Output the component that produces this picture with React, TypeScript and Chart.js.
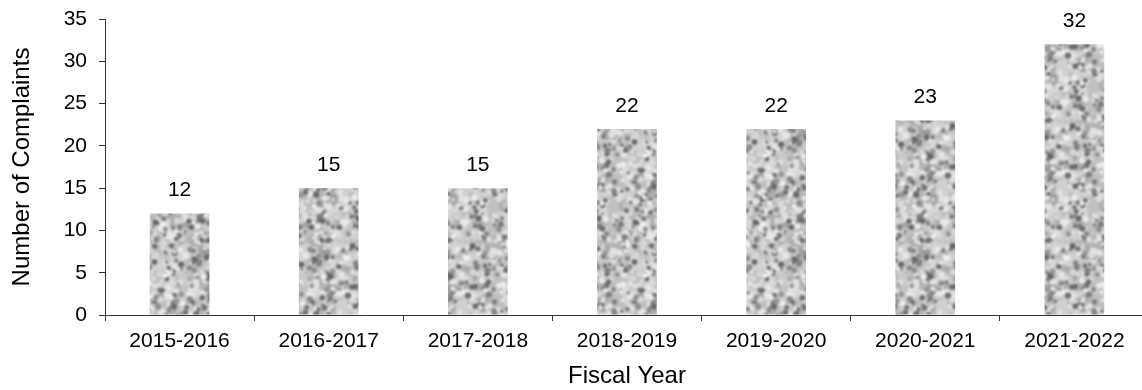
import React, { useEffect, useRef } from "react";
import { Chart, registerables } from "chart.js";

Chart.register(...registerables);

const fiscalYears = [
  "2015-2016",
  "2016-2017",
  "2017-2018",
  "2018-2019",
  "2019-2020",
  "2020-2021",
  "2021-2022",
];
const complaints = [12, 15, 15, 22, 22, 23, 32];
const yTicks = [0, 5, 10, 15, 20, 25, 30, 35];

const FONT = "'Liberation Sans', Arial, sans-serif";

// Deterministic hash-based noise for a granite-style bar texture.
function hashNoise(i: number): number {
  let x = Math.imul(i ^ 0x9e3779b9, 0x85ebca6b);
  x ^= x >>> 13;
  x = Math.imul(x, 0xc2b2ae35);
  x ^= x >>> 16;
  return (x >>> 0) / 4294967295;
}

function makeGranitePattern(ctx: CanvasRenderingContext2D): CanvasPattern | string {
  const size = 120;
  const base = document.createElement("canvas");
  base.width = size;
  base.height = size;
  const b = base.getContext("2d");
  if (!b) return "#aaaaaa";
  b.fillStyle = "#c0c0c0";
  b.fillRect(0, 0, size, size);
  let n = 11;
  const blobs = (count: number, rMin: number, rVar: number, gMin: number, gVar: number) => {
    for (let k = 0; k < count; k++) {
      const x = hashNoise(n++) * size;
      const y = hashNoise(n++) * size;
      const r = rMin + hashNoise(n++) * rVar;
      const g = gMin + Math.floor(hashNoise(n++) * gVar);
      b.fillStyle = `rgb(${g},${g},${g})`;
      for (const dx of [-size, 0, size])
        for (const dy of [-size, 0, size]) {
          b.beginPath();
          b.arc(x + dx, y + dy, r, 0, Math.PI * 2);
          b.fill();
        }
    }
  };
  blobs(240, 3, 5, 165, 50); // broad mottling
  blobs(420, 1.3, 2.2, 205, 35); // light grains
  blobs(200, 1.4, 1.8, 95, 55); // dark grains
  blobs(70, 0.9, 1.3, 228, 22); // bright flecks

  // blur a 3x3 tiled copy so the tile edges wrap seamlessly
  const big = document.createElement("canvas");
  big.width = size * 3;
  big.height = size * 3;
  const bg = big.getContext("2d");
  if (!bg) return "#aaaaaa";
  for (let i = 0; i < 3; i++)
    for (let j = 0; j < 3; j++) bg.drawImage(base, i * size, j * size);
  const blurred = document.createElement("canvas");
  blurred.width = size * 3;
  blurred.height = size * 3;
  const bl = blurred.getContext("2d");
  if (!bl) return "#aaaaaa";
  bl.filter = "blur(1.3px)";
  bl.drawImage(big, 0, 0);
  const tile = document.createElement("canvas");
  tile.width = size;
  tile.height = size;
  const t = tile.getContext("2d");
  if (!t) return "#aaaaaa";
  t.drawImage(blurred, size, size, size, size, 0, 0, size, size);
  return ctx.createPattern(tile, "repeat") || "#aaaaaa";
}

const valueLabels = {
  id: "valueLabels",
  afterDatasetsDraw(chart: Chart) {
    const { ctx } = chart;
    const meta = chart.getDatasetMeta(0);
    const data = chart.data.datasets[0].data as number[];
    ctx.save();
    ctx.fillStyle = "#000";
    ctx.font = `21px ${FONT}`;
    ctx.textAlign = "center";
    ctx.textBaseline = "middle";
    meta.data.forEach((bar, i) => {
      const { x, y } = bar.getProps(["x", "y"], true) as { x: number; y: number };
      ctx.fillText(String(data[i]), x, y - 23);
    });
    ctx.restore();
  },
};

export default function App() {
  const canvasRef = useRef<HTMLCanvasElement | null>(null);

  useEffect(() => {
    document.body.style.margin = "0";
    document.body.style.overflow = "hidden";
    const canvas = canvasRef.current;
    if (!canvas) return;
    const ctx = canvas.getContext("2d");
    if (!ctx) return;
    const pattern = makeGranitePattern(ctx);

    const chart = new Chart(ctx, {
      type: "bar",
      data: {
        labels: fiscalYears,
        datasets: [
          {
            data: complaints,
            backgroundColor: pattern as any,
            borderWidth: 0,
            barPercentage: 0.4,
            categoryPercentage: 1,
          },
        ],
      },
      plugins: [valueLabels],
      options: {
        animation: false,
        responsive: false,
        maintainAspectRatio: false,
        layout: { padding: { top: 19, right: 1, left: 0, bottom: 0 } },
        plugins: {
          legend: { display: false },
          tooltip: { enabled: false },
        },
        scales: {
          x: {
            grid: {
              offset: true,
              drawOnChartArea: false,
              drawTicks: true,
              tickLength: 6,
              color: "#333",
            },
            border: { color: "#333", width: 1 },
            ticks: {
              color: "#000",
              font: { family: FONT, size: 21 },
              padding: 8,
              maxRotation: 0,
              autoSkip: false,
            },
            title: {
              display: true,
              text: "Fiscal Year",
              color: "#000",
              font: { family: FONT, size: 24, lineHeight: 1.1 },
              padding: { top: 0, bottom: 0 },
            },
            afterFit(scale: any) {
              scale.height = 75;
            },
          },
          y: {
            min: 0,
            max: 35,
            afterBuildTicks(scale: any) {
              scale.ticks = yTicks.map((v) => ({ value: v }));
            },
            grid: {
              drawOnChartArea: false,
              drawTicks: true,
              tickLength: 6,
              color: "#333",
            },
            border: { color: "#333", width: 1 },
            ticks: {
              color: "#000",
              font: { family: FONT, size: 21 },
              padding: 12,
            },
            title: {
              display: true,
              text: "Number of Complaints",
              color: "#000",
              font: { family: FONT, size: 24, lineHeight: 1.1 },
              padding: { top: 9, bottom: 0 },
            },
            afterFit(scale: any) {
              scale.width = 105;
              scale.paddingTop = 0;
              scale.paddingBottom = 0;
            },
          },
        },
      },
    });
    return () => chart.destroy();
  }, []);

  return (
    <div style={{ width: 1150, height: 390, overflow: "hidden" }}>
      <canvas ref={canvasRef} width={1150} height={390} style={{ display: "block" }} />
    </div>
  );
}
